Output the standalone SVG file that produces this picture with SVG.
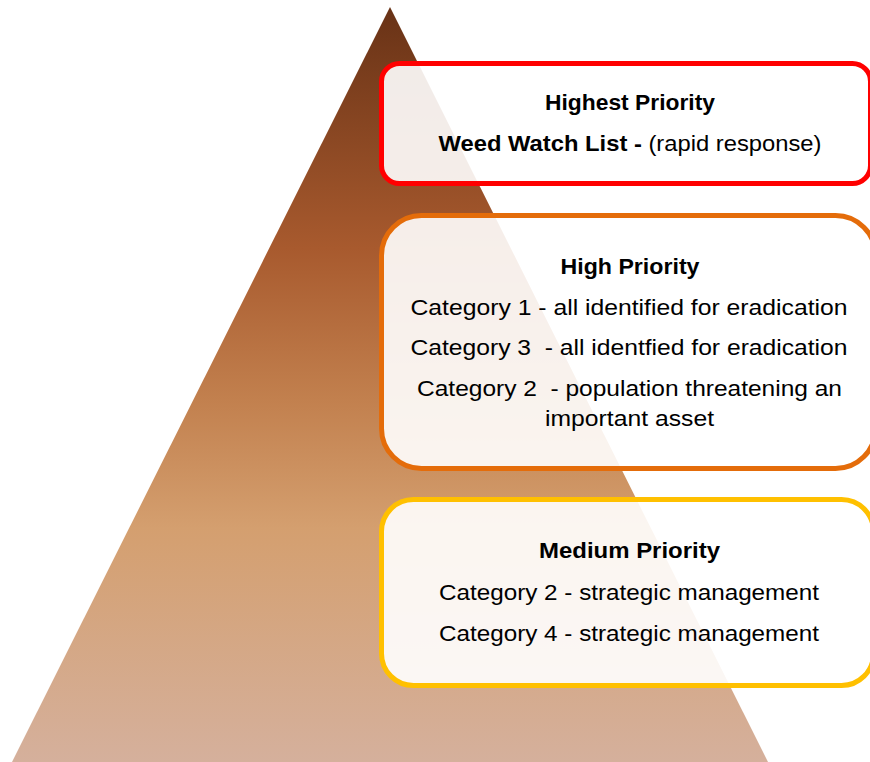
<svg xmlns="http://www.w3.org/2000/svg" width="870" height="762" viewBox="0 0 870 762">
<defs>
<linearGradient id="pyr" gradientUnits="userSpaceOnUse" x1="0" y1="7" x2="0" y2="762">
<stop offset="0" stop-color="#683216"/>
<stop offset="0.32" stop-color="#a85a2e"/>
<stop offset="0.52" stop-color="#c2804e"/>
<stop offset="0.69" stop-color="#d49f6f"/>
<stop offset="1" stop-color="#d5b09c"/>
</linearGradient>
<style>
.box{fill:#ffffff;fill-opacity:0.9;stroke-width:5}
.t{font-family:"Liberation Sans",Arial,sans-serif;font-size:21.5px;fill:#000;text-anchor:middle}
.b{font-weight:bold}
</style>
</defs>
<rect width="870" height="762" fill="#ffffff"/>
<g id="pyramid">
<polygon points="390,7 12,762 768,762" fill="url(#pyr)"/>
</g>
<g id="connectors"></g>
<g id="highest">
<rect class="box" x="381.5" y="63.5" width="489" height="120" rx="18" stroke="#ff0000"/>
<text class="t b" x="630" y="110" textLength="170" lengthAdjust="spacingAndGlyphs">Highest Priority</text>
<text class="t" x="630" y="151" textLength="383" lengthAdjust="spacingAndGlyphs"><tspan class="b">Weed Watch List -</tspan> (rapid response)</text>
</g>
<g id="high">
<rect class="box" x="381.5" y="215.5" width="494" height="253" rx="40" stroke="#e46c0a"/>
<text class="t b" x="630" y="274" textLength="139" lengthAdjust="spacingAndGlyphs">High Priority</text>
<text class="t" x="629" y="315" textLength="437" lengthAdjust="spacingAndGlyphs">Category 1 - all identified for eradication</text>
<text class="t" x="629" y="355" textLength="437" lengthAdjust="spacingAndGlyphs" xml:space="preserve">Category 3  - all identfied for eradication</text>
<text class="t" x="629.5" y="396" textLength="425" lengthAdjust="spacingAndGlyphs" xml:space="preserve">Category 2  - population threatening an</text>
<text class="t" x="629.5" y="426" textLength="169" lengthAdjust="spacingAndGlyphs">important asset</text>
</g>
<g id="medium">
<rect class="box" x="381.5" y="499.5" width="492" height="186" rx="32" stroke="#ffc000"/>
<text class="t b" x="629.5" y="558" textLength="181" lengthAdjust="spacingAndGlyphs">Medium Priority</text>
<text class="t" x="629" y="600" textLength="380" lengthAdjust="spacingAndGlyphs">Category 2 - strategic management</text>
<text class="t" x="629" y="641" textLength="380" lengthAdjust="spacingAndGlyphs">Category 4 - strategic management</text>
</g>
</svg>
